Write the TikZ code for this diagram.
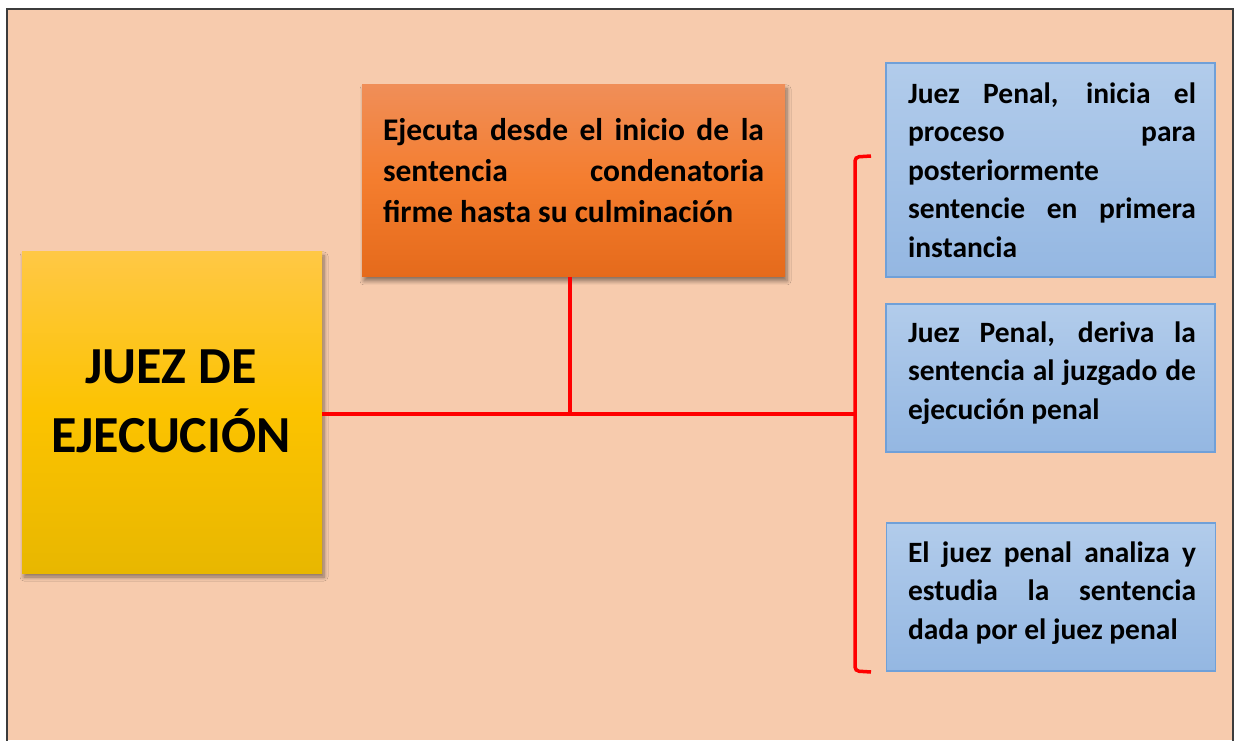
\documentclass[tikz,border=0pt]{standalone}
\usepackage{fontspec}
\setmainfont{Carlito}
\usetikzlibrary{shadows.blur}
\definecolor{peach}{HTML}{F7CBAD}
\definecolor{framec}{HTML}{3C3C3C}
\definecolor{yeltop}{HTML}{FFC845}
\definecolor{yelmid}{HTML}{FCC300}
\definecolor{yelbot}{HTML}{E8B700}
\definecolor{oratop}{HTML}{F08E58}
\definecolor{oramid}{HTML}{F47D2E}
\definecolor{orabot}{HTML}{E56A1B}
\definecolor{bluetop}{HTML}{B2CCEB}
\definecolor{bluebot}{HTML}{94B7E2}
\definecolor{blueedge}{HTML}{70A0D8}
\definecolor{redline}{HTML}{FF0000}
\tikzset{
  boxshadow/.style={blur shadow={shadow xshift=2pt,shadow yshift=-4pt,shadow blur radius=4pt,shadow blur steps=6,shadow opacity=45}},
  yelbox/.style={rectangle,minimum width=300pt,minimum height=321pt,inner sep=0pt,
    top color=yeltop,bottom color=yelbot,middle color=yelmid,boxshadow},
  orabox/.style={rectangle,minimum width=423pt,minimum height=192pt,inner sep=0pt,
    top color=oratop,bottom color=orabot,middle color=oramid,boxshadow},
  bluebox/.style={rectangle,draw=blueedge,line width=1.2pt,minimum width=329pt,inner sep=0pt,
    top color=bluetop,bottom color=bluebot},
  bodytext/.style={inner sep=0pt,align=justify,font=\fontsize{29.5}{38.5}\selectfont\bfseries},
  conn/.style={draw=redline,line width=4pt},
  brace/.style={draw=redline,line width=3.5pt,rounded corners=4pt}
}
\begin{document}
\begin{tikzpicture}[x=1pt,y=1pt]
\useasboundingbox (0,0) rectangle (1234,740);
\fill[white] (0,0) rectangle (1234,740);
\fill[peach] (7,0) rectangle (1233,731);
\draw[framec,line width=1.5pt] (7,-5) -- (7,731) -- (1233,731) -- (1233,-5);

% boxes
\node[yelbox] (yel) at (172,327.5) {};
\node[orabox] (ora) at (573.5,559) {};
\node[bluebox,minimum height=214pt] (b1) at (1050.5,570) {};
\node[bluebox,minimum height=148pt] (b2) at (1050.5,362) {};
\node[bluebox,minimum height=148pt] (b3) at (1051,143) {};

% texts
\node[inner sep=0pt,align=center,font=\fontsize{52}{69}\selectfont\bfseries] (yt) at (171,339) {JUEZ DE\\EJECUCIÓN};
\node[bodytext,text width=381pt,font=\fontsize{31.5}{41}\selectfont\bfseries] (ot) at (573.5,569)
  {Ejecuta desde el inicio de la\linebreak sentencia condenatoria\linebreak firme hasta su culminación};
\node[bodytext,text width=288pt] (t1) at (1052,570)
  {Juez Penal, inicia el\linebreak proceso para\linebreak posteriormente\newline sentencie en primera\linebreak instancia};
\node[bodytext,text width=288pt] (t2) at (1052,367)
  {Juez Penal, deriva la\linebreak sentencia al juzgado de\linebreak ejecución penal};
\node[bodytext,text width=288pt] (t3) at (1052,147)
  {El juez penal analiza y\linebreak estudia la sentencia\linebreak dada por el juez penal};

% connectors
\coordinate (brmid) at (855,326);
\coordinate (brtop) at (855,583);
\coordinate (brbot) at (855,69);
\coordinate (brtopend) at (871,584);
\coordinate (brbotend) at (871,68);
\draw[conn] (yel.east |- brmid) -- (brmid);
\draw[conn] (ora.south -| 569.5,0) -- (569.5,0 |- brmid);
\draw[brace] (brtopend) -- (brtop) -- (brbot) -- (brbotend);
\draw[redline,line width=3pt] (brmid) -- ++(-14,0.5);
\end{tikzpicture}
\end{document}
